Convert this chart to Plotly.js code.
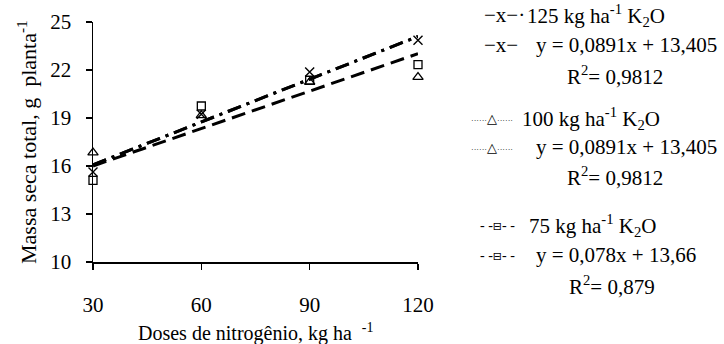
<!DOCTYPE html>
<html>
<head>
<meta charset="utf-8">
<script src="https://cdn.plot.ly/plotly-3.0.1.min.js"></script>
<style>
  html, body { margin: 0; padding: 0; background: #fff; }
  #chart { width: 724px; height: 344px; }
</style>
</head>
<body>
<div id="chart"></div>
<script>
// Nitrogen doses (kg ha-1)
const doses = [30, 60, 90, 120];

// Total dry mass (g planta-1) for each K2O level
const k125 = [15.63, 19.23, 21.88, 23.86];
const k100 = [16.84, 19.17, 21.25, 21.56];
const k75  = [15.10, 19.75, 21.36, 22.34];

// Fitted linear models: [slope, intercept]
const fit125 = [0.0891, 13.405];
const fit100 = [0.0891, 13.405];
const fit75  = [0.078, 13.66];

const yTicks = [10, 13, 16, 19, 22, 25];
const xTicks = [30, 60, 90, 120];

const serif = "Liberation Serif";

function fitLine(c) {
  const xs = [doses[0], doses[doses.length - 1]];
  return { x: xs, y: xs.map(v => c[0] * v + c[1]) };
}

const l125 = fitLine(fit125), l100 = fitLine(fit100), l75 = fitLine(fit75);

const traces = [
  { x: l75.x, y: l75.y, mode: 'lines', line: { color: '#000', width: 3, dash: '14px,7px' }, hoverinfo: 'skip' },
  { x: l100.x, y: l100.y, mode: 'lines', line: { color: '#000', width: 3, dash: '14px,6px,3px,6px' }, hoverinfo: 'skip' },
  { x: l125.x, y: l125.y, mode: 'lines', line: { color: '#000', width: 3, dash: '14px,6px,3px,6px' }, hoverinfo: 'skip' },
  { x: doses, y: k75, mode: 'markers', cliponaxis: false,
    marker: { symbol: 'square-open', size: 8, color: '#000', line: { width: 1.3, color: '#000' } } },
  { x: doses, y: k100, mode: 'markers', cliponaxis: false,
    marker: { symbol: 'triangle-up-open', size: 9, color: '#000', line: { width: 1.3, color: '#000' } } },
  { x: doses, y: k125, mode: 'markers', cliponaxis: false,
    marker: { symbol: 'x-thin-open', size: 9, color: '#000', line: { width: 1.4, color: '#000' } } }
];

// plot area in pixels
const L = 93, R = 418, T = 22, B = 262;
const px = x => (x - L) / (R - L);
const py = y => (B - y) / (B - T);

function txt(x, y, text, size, anchor) {
  return { xref: 'paper', yref: 'paper', x: px(x), y: py(y), text: text, showarrow: false,
           xanchor: anchor || 'left', yanchor: 'middle',
           font: { family: serif, size: size || 21, color: '#000' } };
}

// legend samples drawn as text
const dots = '\u00b7\u00b7\u00b7\u00b7\u00b7\u00b7';
const triSample = dots + '<span style="font-size:13px;font-family:DejaVu Sans">\u25b3</span>' + dots;
const sqSample = '- -<span style="font-size:11px;font-family:DejaVu Sans">\u229f</span>- -';

const annotations = [
  // axis titles
  { xref: 'paper', yref: 'paper', x: px(27), y: 0.5, textangle: -90, showarrow: false,
    xanchor: 'center', yanchor: 'middle', text: 'Massa seca total, g  planta<sup>-1</sup>',
    font: { family: serif, size: 22, color: '#000' } },
  { xref: 'paper', yref: 'paper', x: 0.5, y: py(332), showarrow: false,
    xanchor: 'center', yanchor: 'middle', text: 'Doses de nitrogênio, kg ha  <sup>-1</sup>',
    font: { family: serif, size: 20, color: '#000' } },

  // legend block: 125 kg ha-1
  txt(482, 15, '\u2212x\u2212\u00b7', 21),
  txt(525, 15, '125 kg ha<sup>-1</sup> K<sub>2</sub>O'),
  txt(482, 45, '\u2212x\u2212', 21),
  txt(534, 45, 'y = 0,0891x + 13,405'),
  txt(615, 75, 'R<sup>2</sup>= 0,9812', 21, 'center'),

  // 100 kg ha-1
  txt(469, 118, triSample, 8),
  txt(520, 118, '100 kg ha<sup>-1</sup> K<sub>2</sub>O'),
  txt(469, 147, triSample, 8),
  txt(534, 147, 'y = 0,0891x + 13,405'),
  txt(615, 176, 'R<sup>2</sup>= 0,9812', 21, 'center'),

  // 75 kg ha-1
  txt(478, 225, sqSample, 14),
  txt(527, 225, '75 kg ha<sup>-1</sup> K<sub>2</sub>O'),
  txt(478, 255, sqSample, 14),
  txt(534, 255, 'y = 0,078x + 13,66'),
  txt(612, 285, 'R<sup>2</sup>= 0,879', 21, 'center')
];

const layout = {
  width: 724, height: 344,
  margin: { l: L, r: 724 - R, t: T, b: 344 - B },
  paper_bgcolor: '#fff', plot_bgcolor: '#fff',
  showlegend: false,
  font: { family: serif, color: '#000' },
  xaxis: {
    range: [30, 120], tickvals: xTicks, ticktext: xTicks.map(String),
    showgrid: false, zeroline: false, showline: true, linecolor: '#000', linewidth: 1.5,
    ticks: 'outside', ticklen: 6, tickwidth: 1.5, tickcolor: '#000',
    ticklabelstandoff: 17, tickfont: { family: serif, size: 21, color: '#000' }
  },
  yaxis: {
    range: [10, 25], tickvals: yTicks, ticktext: yTicks.map(String),
    showgrid: false, zeroline: false, showline: true, linecolor: '#000', linewidth: 1.5,
    ticks: 'outside', ticklen: 6, tickwidth: 1.5, tickcolor: '#000',
    ticklabelstandoff: 10, tickfont: { family: serif, size: 21, color: '#000' }
  },
  annotations: annotations
};

Plotly.newPlot('chart', traces, layout, { staticPlot: true, displayModeBar: false });
</script>
</body>
</html>
